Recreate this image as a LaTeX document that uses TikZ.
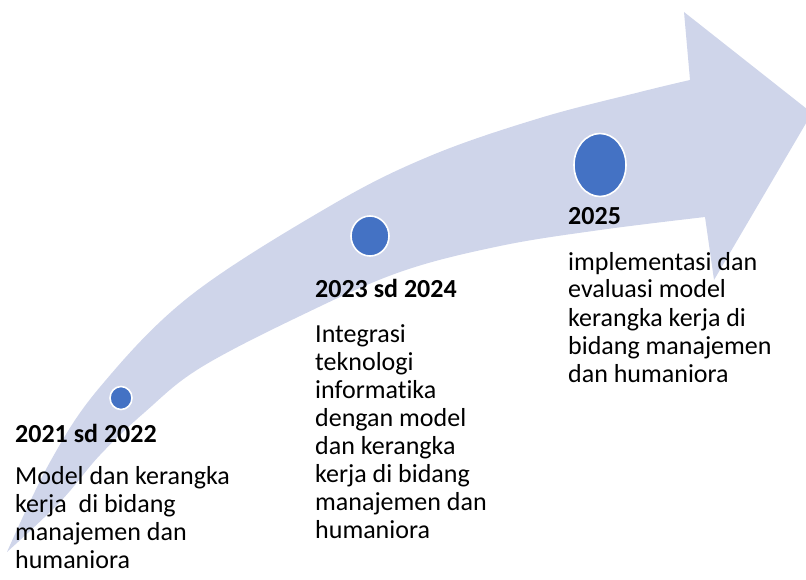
\documentclass[tikz,border=0pt]{standalone}
\usepackage{fontspec}
\setmainfont{Carlito}[Ligatures={NoCommon}]
\usetikzlibrary{shapes.geometric}
\definecolor{lav}{HTML}{CFD5EA}
\definecolor{dotblue}{HTML}{4472C4}
\tikzset{
  dot/.style={ellipse, fill=dotblue, draw=white, line width=1.6pt, inner sep=0pt},
  head/.style={anchor=base west, inner sep=0pt, font=\fontsize{26}{28}\selectfont\bfseries},
  body/.style={anchor=base west, inner sep=0pt, font=\fontsize{26}{28}\selectfont}
}
\newcommand{\lines}[1]{\begin{tabular}[t]{@{}l@{}}#1\end{tabular}}
\begin{document}
\begin{tikzpicture}[x=1pt, y=-1pt]
\useasboundingbox (0,0) rectangle (806,580);
\begin{scope}
\clip (0,0) rectangle (806,580);
\fill[lav] plot[smooth, tension=0.6] coordinates {(7,552) (50,462) (100,387) (190,296) (330,206) (430,156) (540,118) (640,92) (690,80)}
  -- (684,12) -- (812,113) -- (714,280) -- (705,217)
  -- plot[smooth, tension=0.6] coordinates {(705,217) (600,230) (500,246) (400,272) (300,316) (200,368) (145,412) (100,455) (60,502) (7,552)}
  -- cycle;
\end{scope}
\node[dot, minimum width=22pt, minimum height=23pt] (c1) at (121,398) {};
\node[dot, minimum width=38pt, minimum height=40pt] (c2) at (370,236) {};
\node[dot, minimum width=52pt, minimum height=63pt] (c3) at (600,165) {};
\node[head] (h1) at (15,442) {2021 sd 2022};
\node[body] (b1) at (15,484) {\lines{Model dan kerangka\\kerja\ \ di bidang\\manajemen dan\\humaniora}};
\node[head] (h2) at (315,297) {2023 sd 2024};
\node[body] (b2) at (315,342) {\lines{Integrasi\\teknologi\\informatika\\dengan model\\dan kerangka\\kerja di bidang\\manajemen dan\\humaniora}};
\node[head] (h3) at (568,225) {2025};
\node[body] (b3) at (568,270) {\lines{implementasi dan\\evaluasi model\\kerangka kerja di\\bidang manajemen\\dan humaniora}};
\end{tikzpicture}
\end{document}
